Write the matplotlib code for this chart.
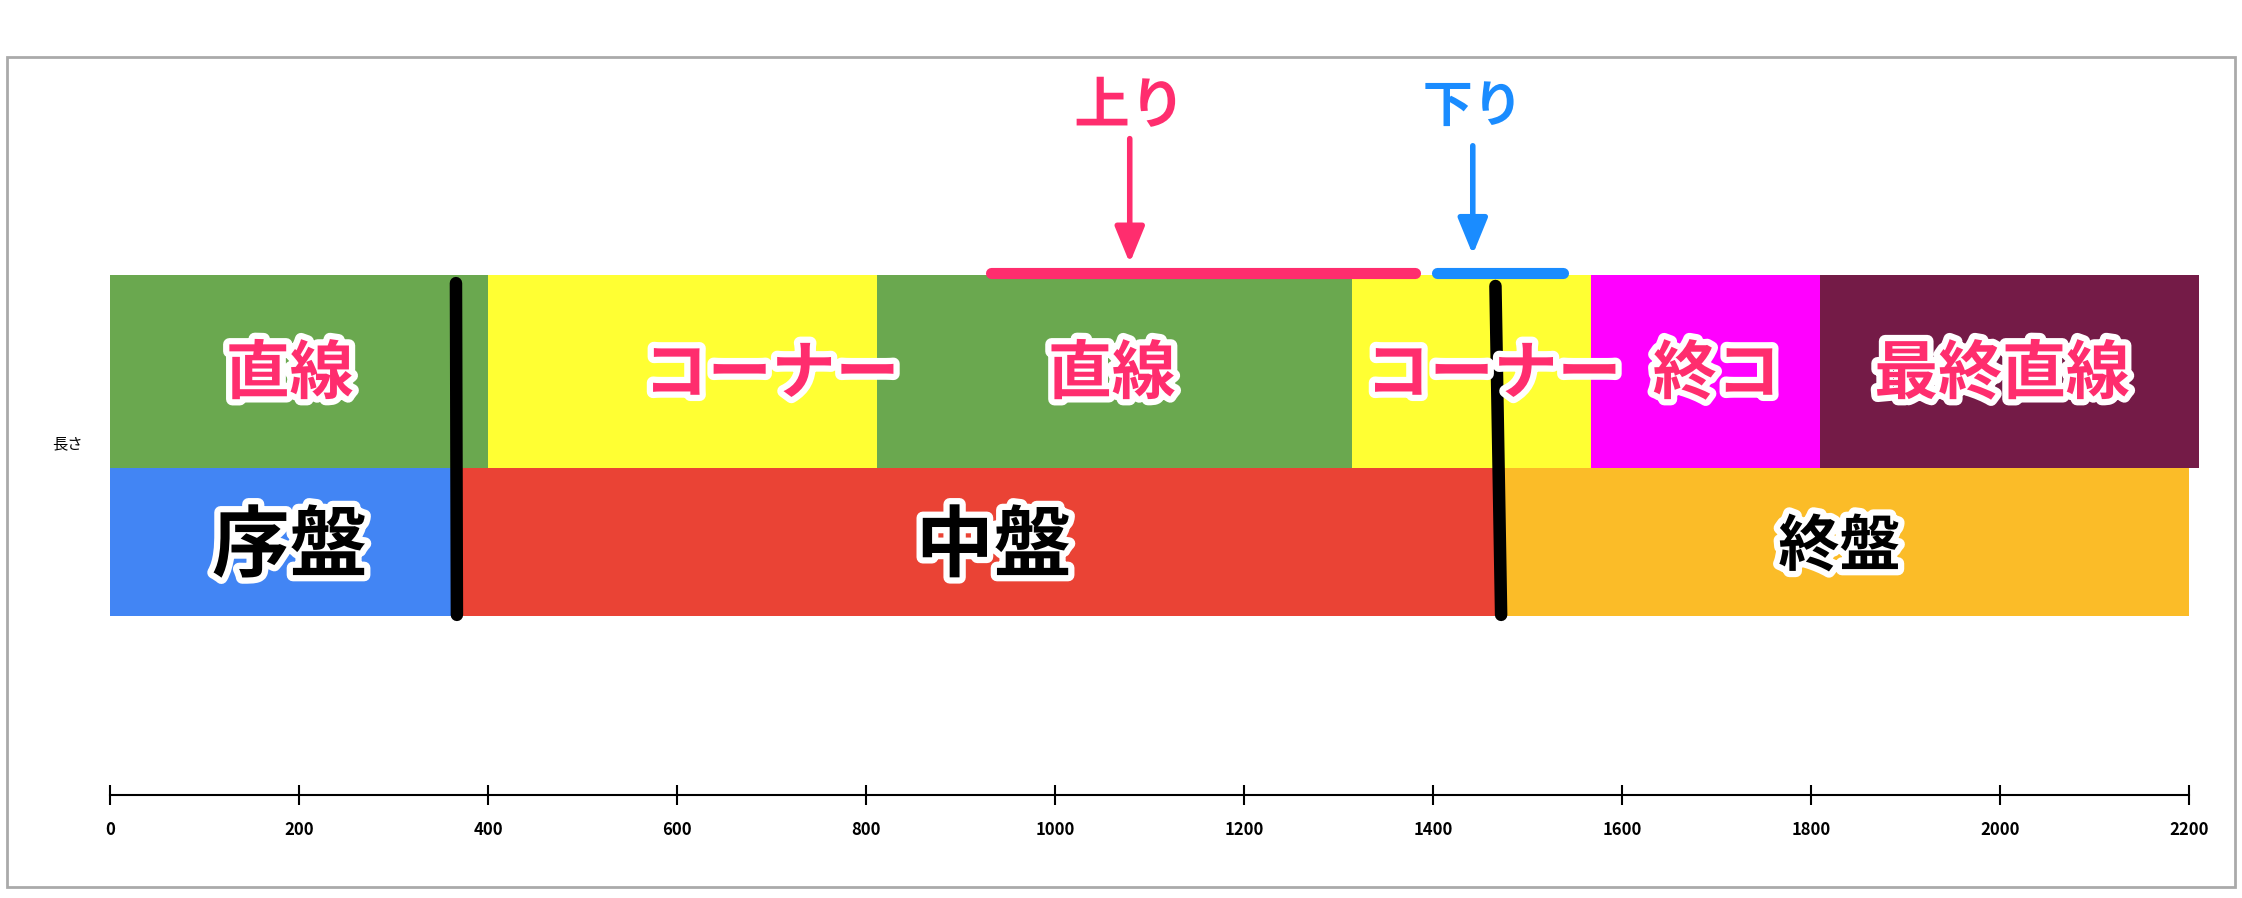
import matplotlib.pyplot as plt
import matplotlib.patheffects as pe

plt.rcParams['font.family'] = ['Noto Sans CJK JP', 'DejaVu Sans']

# sections (start, end) in metres
top_start = [0, 400, 812, 1314, 1567, 1809]
top_end = [400, 812, 1314, 1567, 1809, 2210]
top_colors = ['#6aa84f', '#ffff33', '#6aa84f', '#ffff33', '#ff00ff', '#741b47']
top_labels = ['直線', 'コーナー', '直線', 'コーナー', '終コ', '最終直線']
top_label_x = [190, 700, 1060, 1464, 1700, 2002]

bot_start = [0, 367, 1472]
bot_end = [367, 1472, 2200]
bot_colors = ['#4285f4', '#ea4335', '#fbbc28']
bot_labels = ['序盤', '中盤', '終盤']
bot_label_x = [190, 935, 1830]

phase_marks = [366, 1470]
uphill = (932, 1381)
downhill = (1404, 1537)
ticks = [0, 200, 400, 600, 800, 1000, 1200, 1400, 1600, 1800, 2000, 2200]

fig = plt.figure(figsize=(22.42, 8.98), dpi=100)
ax = fig.add_axes([0, 0, 1, 1])
# map data x so that 0 and 2200 land where the reference axis is
ax.set_xlim(-116.5, 2256)
ax.set_ylim(628, 0)

# frame and faint sheet grid
fig.patches.append(plt.Rectangle((5 / 1568, 8 / 628), 1558 / 1568, 580 / 628,
                                 transform=fig.transFigure, fill=False,
                                 ec='#aaaaaa', lw=2))

ax.barh(259.5, [e - s for s, e in zip(top_start, top_end)], left=top_start,
        height=135, color=top_colors)
ax.barh(379, [e - s for s, e in zip(bot_start, bot_end)], left=bot_start,
        height=104, color=bot_colors)

stroke = [pe.withStroke(linewidth=9, foreground='white')]
for x, t in zip(top_label_x, top_labels):
    ax.text(x, 262, t, color='#ff2d6e', fontsize=46, fontweight='bold',
            ha='center', va='center', path_effects=stroke)
for x, t in zip(bot_label_x, bot_labels):
    ax.text(x, 383, t, color='black', fontsize=56 if t != '終盤' else 44,
            fontweight='bold', ha='center', va='center', path_effects=stroke)

ax.plot([phase_marks[0], phase_marks[0] + 1], [198, 430], color='black', lw=9,
        solid_capstyle='round')
ax.plot([phase_marks[1] - 4, phase_marks[1] + 2], [200, 430], color='black', lw=9,
        solid_capstyle='round')

ax.plot(uphill, [191, 191], color='#ff2d6e', lw=8, solid_capstyle='round')
ax.plot(downhill, [191, 191], color='#1a8cff', lw=8, solid_capstyle='round')
ax.annotate('', xy=(1079, 186), xytext=(1079, 95),
            arrowprops=dict(arrowstyle='-|>,head_width=0.9,head_length=2.2',
                            color='#ff2d6e', lw=4))
ax.annotate('', xy=(1442, 180), xytext=(1442, 100),
            arrowprops=dict(arrowstyle='-|>,head_width=0.9,head_length=2.2',
                            color='#1a8cff', lw=4))
ax.text(1079, 75, '上り', color='#ff2d6e', fontsize=40, fontweight='bold',
        ha='center', va='center', path_effects=stroke)
ax.text(1442, 75, '下り', color='#1a8cff', fontsize=36, fontweight='bold',
        ha='center', va='center', path_effects=stroke)

ax.text(-45, 310, '長さ', fontsize=11, ha='center', va='center')

for s in ['top', 'left', 'right']:
    ax.spines[s].set_visible(False)
ax.spines['bottom'].set_position(('data', 556))
ax.spines['bottom'].set_bounds(0, 2200)
ax.spines['bottom'].set_linewidth(1.5)
ax.set_yticks([])
ax.set_xticks(ticks)
ax.tick_params(axis='x', direction='inout', length=14, width=1.5, pad=12,
               labelsize=12)
for lb in ax.get_xticklabels():
    lb.set_fontweight('bold')
ax.patch.set_alpha(0)

fig.savefig('out.png')
